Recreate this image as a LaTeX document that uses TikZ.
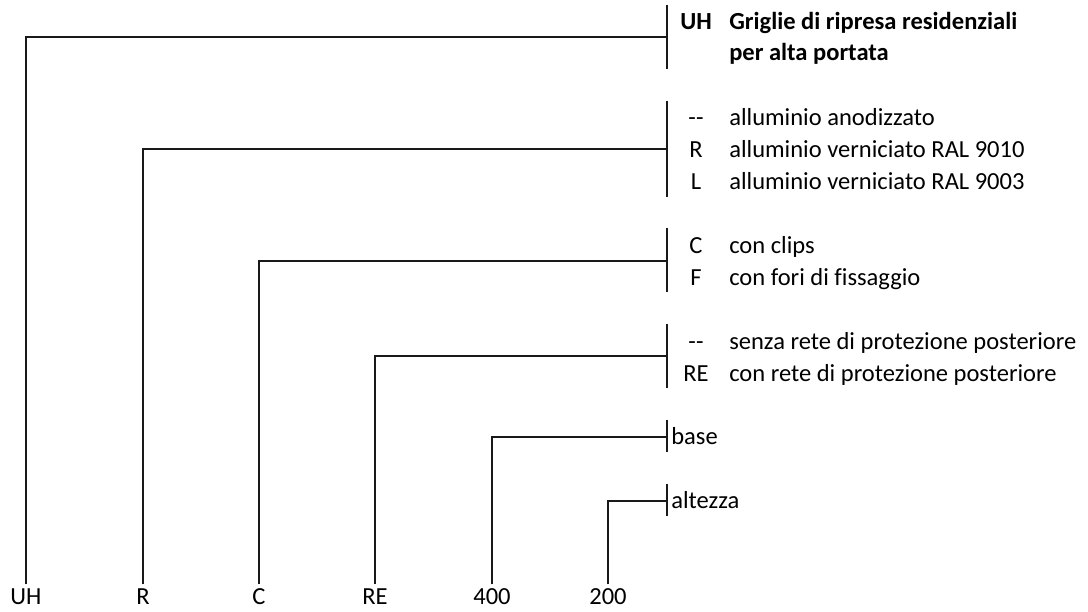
\documentclass[tikz,border=0pt]{standalone}
\usepackage{fontspec}
\setmainfont{Carlito}[Ligatures={NoCommon}]
\usetikzlibrary{positioning}
\definecolor{lineBlack}{gray}{0.1}

\begin{document}
\begin{tikzpicture}[x=0.75pt, y=-0.75pt, font=\fontsize{18.4}{22}\selectfont]
    \useasboundingbox (0,0) rectangle (1088,611);
    \tikzset{
        bar/.style={lineBlack, line width=1.3pt},
        codetext/.style={anchor=base, inner sep=0pt},
        desctext/.style={anchor=base west, inner sep=0pt}
    }
    % Joints on the bars
    \coordinate (jUH) at (667,37);
    \coordinate (jR) at (667,149);
    \coordinate (jC) at (667,261);
    \coordinate (jRE) at (667,356);
    \coordinate (jBase) at (667,437);
    \coordinate (jAlt) at (667,501);

    % Bottom labels
    \node (cUH) at (26,597) {UH};
    \node (cR) at (143,597) {R};
    \node (cC) at (259,597) {C};
    \node (cRE) at (375,597) {RE};
    \node (cBase) at (492,597) {400};
    \node (cAlt) at (608,597) {200};

    % Bars
    \draw[bar] (667,5) -- (667,69);
    \draw[bar] (667,101) -- (667,197);
    \draw[bar] (667,228) -- (667,292);
    \draw[bar] (667,324) -- (667,388);
    \draw[bar] (667,420) -- (667,452);
    \draw[bar] (667,484) -- (667,516);

    % Connectors
    \draw[bar] (cUH.north) |- (jUH);
    \draw[bar] (cR.north) |- (jR);
    \draw[bar] (cC.north) |- (jC);
    \draw[bar] (cRE.north) |- (jRE);
    \draw[bar] (cBase.north) |- (jBase);
    \draw[bar] (cAlt.north) |- (jAlt);

    % Codes and descriptions
    \node[codetext] (kUH) at (696,29) {\textbf{UH}};
    \node[desctext] (dUH) at (729,29) {\textbf{Griglie di ripresa residenziali}};
    \node[desctext] (dUHb) at (729,60) {\textbf{per alta portata}};

    \node[codetext] (kAn) at (696,125) {-{}-};
    \node[desctext] (dAn) at (729,125) {alluminio anodizzato};
    \node[codetext] (kR) at (696,157) {R};
    \node[desctext] (dR) at (729,157) {alluminio verniciato RAL 9010};
    \node[codetext] (kL) at (696,189) {L};
    \node[desctext] (dL) at (729,189) {alluminio verniciato RAL 9003};

    \node[codetext] (kC) at (696,253) {C};
    \node[desctext] (dC) at (729,253) {con clips};
    \node[codetext] (kF) at (696,285) {F};
    \node[desctext] (dF) at (729,285) {con fori di fissaggio};

    \node[codetext] (kNo) at (696,349) {-{}-};
    \node[desctext] (dNo) at (729,349) {senza rete di protezione posteriore};
    \node[codetext] (kRE) at (696,381) {RE};
    \node[desctext] (dRE) at (729,381) {con rete di protezione posteriore};

    \node[desctext] (dBase) at (671,444) {base};
    \node[desctext] (dAlt) at (671,508) {altezza};
\end{tikzpicture}
\end{document}
